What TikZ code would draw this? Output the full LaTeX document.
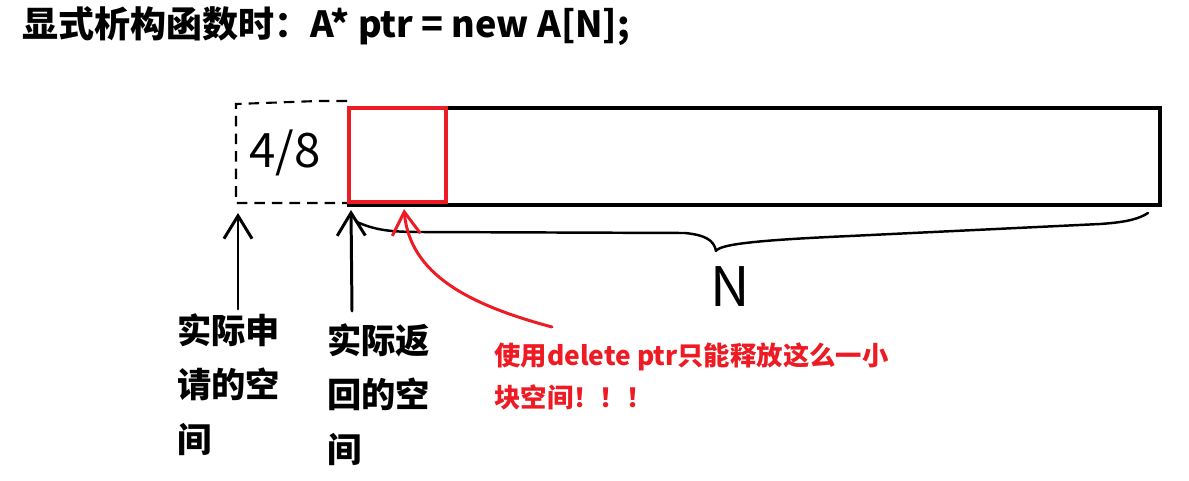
\documentclass[tikz,border=0pt]{standalone}
\usepackage{fontspec}
\newfontfamily\cjk{Noto Sans CJK SC}
\usepackage{tikz}
\usetikzlibrary{arrows.meta, positioning, calc}
\definecolor{paintred}{HTML}{ED1C24}

\begin{document}
\begin{tikzpicture}[x=0.02cm, y=-0.02cm,
  hand/.style={line width=1.7pt, line cap=round, line join=round},
  tip/.style={-{Straight Barb[length=13pt, width=16pt, line width=1.7pt]}},
  note/.style={font=\cjk\bfseries\fontsize{19.5}{31}\selectfont, align=left, anchor=north west, inner sep=0pt}]
\useasboundingbox (0,0) rectangle (1189,480);

% Title
\node[anchor=base west, inner sep=0pt, font=\cjk\bfseries\fontsize{20.5}{20.5}\selectfont] (title) at (22,37) {显式析构函数时：A* ptr = new A[N];};

% Header (dashed) and array
\draw[line width=1.2pt, dash pattern=on 6pt off 4pt] (347,101) -- (318,101) -- (236,104) -- (236,203) -- (347,203);
\node[font=\cjk\fontsize{27}{27}\selectfont, inner sep=0pt] (cnt) at (285,153) {4/8};
\node[draw, line width=2.5pt, anchor=north west, minimum width=16.22cm, minimum height=1.94cm, inner sep=0pt] (arr) at (347,106) {};
\node[draw=paintred, line width=2.5pt, anchor=north west, minimum width=1.94cm, minimum height=1.88cm, inner sep=0pt] (first) at (347,106) {};

% Brace over N elements
\coordinate (bl) at (357,222);
\coordinate (br) at (1148,213);
\draw[hand, line width=1.4pt] (bl) .. controls (375,230) and (390,232) .. (420,232)
  -- (685,233) .. controls (705,235) and (714,240) .. (716,251)
  .. controls (720,244) and (760,240) .. (850,236) -- (1100,224)
  .. controls (1130,222) and (1140,218) .. (br);
\node[font=\cjk\fontsize{31}{31}\selectfont, inner sep=0pt] (n) at (730,287) {N};

% Labels
\node[note] (req) at (177,313) {实际申\\请的空\\间};
\node[note] (ret) at (327,323) {实际返\\回的空\\间};
\node[note, text=paintred, font=\cjk\bfseries\fontsize{15}{24.4}\selectfont] (warn) at (494,342) {使用delete ptr只能释放这么一小\\块空间！！！};

% Arrows
\coordinate (reqtip) at (238,213);
\coordinate (rettip) at (351,210);
\coordinate (warntip) at (404,209);
\draw[hand, tip] ($(req.north west)+(61,-4)$) -- (reqtip);
\draw[hand, tip] ($(ret.north west)+(25,-12)$) -- (rettip);
\draw[hand, tip, paintred] ($(warn.north west)+(58,-15)$) .. controls (470,305) and (410,275) .. (warntip);
\end{tikzpicture}
\end{document}
